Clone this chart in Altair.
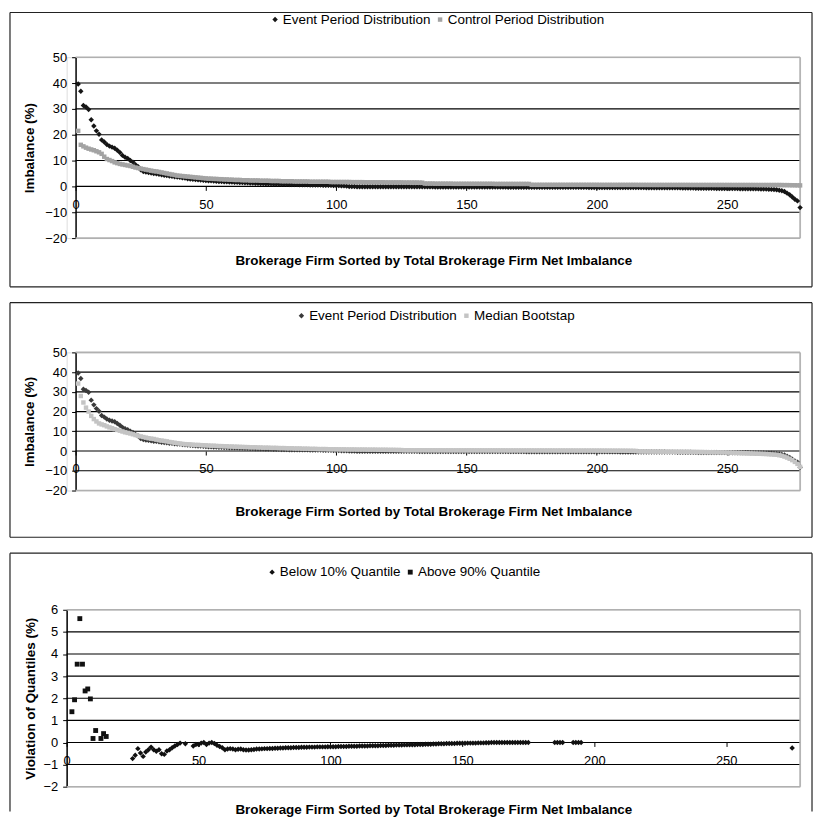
import altair as alt
import pandas as pd

# ---------------- data ----------------
FIRM = list(range(1, 279))

EVENT = [
    39.6, 36.8, 31.3, 30.7, 29.8, 25.8, 23.4, 21.5, 20.2, 18.0,
    17.2, 16.2, 15.6, 15.2, 14.8, 14.0, 13.1, 12.0, 11.3, 10.8,
    10.0, 9.4, 8.4, 7.6, 6.4, 5.8, 5.6, 5.4, 5.2, 5.0,
    4.9, 4.7, 4.5, 4.3, 4.2, 4.0, 3.9, 3.7, 3.6, 3.5,
    3.3, 3.2, 3.0, 2.9, 2.8, 2.7, 2.6, 2.5, 2.4, 2.3,
    2.2, 2.2, 2.1, 2.0, 1.9, 1.9, 1.8, 1.8, 1.7, 1.7,
    1.6, 1.6, 1.5, 1.5, 1.4, 1.4, 1.3, 1.3, 1.2, 1.2,
    1.1, 1.1, 1.0, 1.0, 1.0, 0.9, 0.9, 0.9, 0.8, 0.8,
    0.8, 0.7, 0.7, 0.7, 0.7, 0.6, 0.6, 0.6, 0.6, 0.5,
    0.5, 0.5, 0.5, 0.5, 0.4, 0.4, 0.4, 0.4, 0.3, 0.3,
    0.3, 0.2, 0.2, 0.1, 0.0, -0.05, -0.05, -0.1, -0.1, -0.1,
    -0.1, -0.1, -0.1, -0.12, -0.12, -0.12, -0.13, -0.13, -0.13, -0.14,
    -0.14, -0.14, -0.15, -0.15, -0.15, -0.16, -0.16, -0.16, -0.17, -0.17,
    -0.17, -0.18, -0.18, -0.18, -0.19, -0.19, -0.19, -0.2, -0.2, -0.2,
    -0.2, -0.21, -0.21, -0.21, -0.22, -0.22, -0.22, -0.23, -0.23, -0.23,
    -0.24, -0.24, -0.24, -0.25, -0.25, -0.25, -0.26, -0.26, -0.26, -0.27,
    -0.27, -0.27, -0.28, -0.28, -0.28, -0.29, -0.29, -0.29, -0.3, -0.3,
    -0.3, -0.3, -0.31, -0.31, -0.31, -0.32, -0.32, -0.32, -0.33, -0.33,
    -0.33, -0.34, -0.34, -0.34, -0.35, -0.35, -0.35, -0.36, -0.36, -0.36,
    -0.37, -0.37, -0.37, -0.38, -0.38, -0.38, -0.39, -0.39, -0.39, -0.4,
    -0.4, -0.4, -0.41, -0.41, -0.42, -0.42, -0.43, -0.43, -0.44, -0.44,
    -0.45, -0.45, -0.46, -0.46, -0.47, -0.47, -0.48, -0.48, -0.49, -0.49,
    -0.5, -0.5, -0.51, -0.51, -0.52, -0.52, -0.53, -0.53, -0.54, -0.55,
    -0.56, -0.57, -0.58, -0.6, -0.62, -0.64, -0.66, -0.68, -0.7, -0.72,
    -0.73, -0.74, -0.75, -0.76, -0.77, -0.78, -0.79, -0.8, -0.81, -0.82,
    -0.83, -0.84, -0.85, -0.86, -0.87, -0.88, -0.89, -0.9, -0.91, -0.92,
    -0.94, -0.96, -0.98, -1.0, -1.05, -1.1, -1.15, -1.2, -1.3, -1.45,
    -1.7, -2.0, -2.6, -3.2, -4.1, -5.0, -5.6, -8.2,
]

CONTROL = [
    21.5, 16.1, 15.5, 15.0, 14.6, 14.3, 14.0, 13.6, 13.2, 12.6,
    11.5, 10.6, 10.2, 9.8, 9.3, 9.0, 8.7, 8.5, 8.3, 8.1,
    7.9, 7.6, 7.3, 7.1, 6.9, 6.7, 6.5, 6.3, 6.1, 5.9,
    5.8, 5.6, 5.4, 5.2, 5.0, 4.8, 4.6, 4.4, 4.2, 4.1,
    4.0, 3.9, 3.8, 3.7, 3.6, 3.5, 3.4, 3.3, 3.2, 3.1,
    3.0, 3.0, 2.9, 2.9, 2.8, 2.8, 2.7, 2.7, 2.6, 2.6,
    2.5, 2.5, 2.5, 2.4, 2.4, 2.4, 2.3, 2.3, 2.3, 2.3,
    2.2, 2.2, 2.2, 2.2, 2.1, 2.1, 2.1, 2.1, 2.0, 2.0,
    2.0, 2.0, 2.0, 1.9, 1.9, 1.9, 1.9, 1.9, 1.9, 1.8,
    1.8, 1.8, 1.8, 1.8, 1.8, 1.8, 1.8, 1.7, 1.7, 1.7,
    1.7, 1.7, 1.7, 1.7, 1.7, 1.65, 1.65, 1.65, 1.65, 1.65,
    1.6, 1.6, 1.6, 1.6, 1.6, 1.6, 1.6, 1.6, 1.55, 1.55,
    1.55, 1.55, 1.55, 1.55, 1.55, 1.5, 1.5, 1.5, 1.5, 1.5,
    1.5, 1.45, 1.45, 1.1, 1.1, 1.1, 1.1, 1.05, 1.05, 1.05,
    1.05, 1.05, 1.05, 1.05, 1.0, 1.0, 1.0, 1.0, 1.0, 1.0,
    1.0, 1.0, 1.0, 1.0, 1.0, 1.0, 1.0, 1.0, 1.0, 1.0,
    0.95, 0.95, 0.95, 0.95, 0.95, 0.95, 0.95, 0.95, 0.95, 0.95,
    0.95, 0.95, 0.95, 0.95, 0.6, 0.6, 0.6, 0.6, 0.6, 0.6,
    0.6, 0.6, 0.6, 0.6, 0.6, 0.6, 0.6, 0.6, 0.6, 0.6,
    0.6, 0.6, 0.6, 0.6, 0.6, 0.6, 0.6, 0.6, 0.6, 0.6,
    0.58, 0.58, 0.58, 0.58, 0.58, 0.58, 0.58, 0.58, 0.58, 0.58,
    0.58, 0.58, 0.58, 0.58, 0.58, 0.57, 0.57, 0.57, 0.57, 0.57,
    0.56, 0.56, 0.56, 0.56, 0.56, 0.56, 0.56, 0.56, 0.56, 0.56,
    0.56, 0.56, 0.56, 0.56, 0.56, 0.55, 0.55, 0.55, 0.55, 0.55,
    0.55, 0.55, 0.55, 0.55, 0.55, 0.55, 0.55, 0.55, 0.55, 0.55,
    0.54, 0.54, 0.54, 0.54, 0.54, 0.54, 0.54, 0.54, 0.54, 0.54,
    0.53, 0.53, 0.53, 0.53, 0.53, 0.53, 0.53, 0.53, 0.53, 0.53,
    0.52, 0.5, 0.5, 0.48, 0.46, 0.44, 0.42, 0.4,
]

BOOTSTRAP = [
    34.2, 27.9, 24.6, 22.0, 20.0, 17.8, 16.2, 15.0, 14.0, 13.5,
    13.1, 12.5, 12.0, 11.6, 11.1, 10.7, 10.3, 9.9, 9.5, 9.2,
    8.9, 8.5, 8.1, 7.7, 7.4, 7.1, 6.8, 6.5, 6.3, 6.1,
    5.8, 5.5, 5.3, 5.1, 4.9, 4.6, 4.4, 4.2, 4.0, 3.8,
    3.6, 3.5, 3.4, 3.3, 3.2, 3.1, 3.1, 3.0, 2.9, 2.9,
    2.8, 2.7, 2.7, 2.6, 2.5, 2.5, 2.4, 2.4, 2.3, 2.3,
    2.2, 2.2, 2.1, 2.1, 2.0, 2.0, 1.9, 1.9, 1.9, 1.8,
    1.8, 1.7, 1.7, 1.7, 1.6, 1.6, 1.6, 1.5, 1.5, 1.5,
    1.4, 1.4, 1.4, 1.3, 1.3, 1.3, 1.2, 1.2, 1.2, 1.1,
    1.1, 1.1, 1.0, 1.0, 1.0, 1.0, 0.9, 0.9, 0.9, 0.9,
    0.85, 0.85, 0.85, 0.8, 0.8, 0.8, 0.8, 0.75, 0.75, 0.75,
    0.75, 0.7, 0.7, 0.7, 0.7, 0.65, 0.65, 0.65, 0.65, 0.6,
    0.6, 0.6, 0.55, 0.55, 0.5, 0.4, 0.4, 0.4, 0.4, 0.4,
    0.4, 0.4, 0.4, 0.4, 0.4, 0.38, 0.38, 0.38, 0.38, 0.38,
    0.37, 0.37, 0.37, 0.36, 0.36, 0.36, 0.36, 0.35, 0.35, 0.35,
    0.35, 0.35, 0.34, 0.34, 0.34, 0.34, 0.33, 0.33, 0.33, 0.33,
    0.33, 0.32, 0.32, 0.32, 0.32, 0.31, 0.31, 0.31, 0.31, 0.3,
    0.3, 0.3, 0.3, 0.3, 0.3, 0.29, 0.29, 0.29, 0.29, 0.28,
    0.28, 0.28, 0.28, 0.27, 0.27, 0.27, 0.27, 0.26, 0.26, 0.26,
    0.26, 0.25, 0.25, 0.25, 0.25, 0.24, 0.24, 0.24, 0.23, 0.23,
    0.23, 0.22, 0.22, 0.21, 0.21, 0.2, 0.2, 0.19, 0.18, 0.17,
    0.16, 0.15, 0.13, 0.1, 0.05, -0.2, -0.22, -0.24, -0.26, -0.28,
    -0.3, -0.31, -0.32, -0.33, -0.34, -0.35, -0.36, -0.37, -0.38, -0.39,
    -0.4, -0.41, -0.42, -0.43, -0.44, -0.45, -0.46, -0.48, -0.5, -0.52,
    -0.54, -0.56, -0.58, -0.6, -0.62, -0.64, -0.66, -0.68, -0.72, -0.76,
    -0.8, -0.85, -0.9, -0.95, -1.0, -1.05, -1.1, -1.15, -1.2, -1.25,
    -1.3, -1.35, -1.4, -1.45, -1.5, -1.6, -1.7, -1.8, -1.9, -2.1,
    -2.4, -2.8, -3.3, -3.9, -4.6, -5.5, -6.5, -8.0,
]

ABOVE_X = [2, 3, 4, 5, 6, 7, 8, 9, 10, 11, 13, 14, 15]
ABOVE_Y = [1.39, 1.93, 3.54, 5.6, 3.54, 2.33, 2.42, 1.97, 0.18, 0.54, 0.18, 0.40, 0.27]

BELOW_X = (list(range(25, 44)) + [45] + list(range(48, 176))
           + [185, 186, 187, 188, 192, 193, 194, 195, 275])
BELOW_Y = [
    -0.73, -0.58, -0.28, -0.48, -0.63, -0.43, -0.33, -0.21, -0.33, -0.40,
    -0.33, -0.51, -0.54, -0.39, -0.33, -0.24, -0.16, -0.09, -0.03,
    -0.06,
    -0.16, -0.09, -0.09, -0.03, 0.0, -0.09, -0.03, 0.0, -0.05, -0.13, -0.18, -0.24, -0.33,
    -0.30, -0.28, -0.30, -0.33, -0.31, -0.30, -0.33, -0.34, -0.34, -0.33,
    -0.32, -0.30, -0.30, -0.29, -0.28, -0.28, -0.27, -0.27, -0.26, -0.26,
    -0.25, -0.25, -0.24, -0.24, -0.24, -0.23, -0.23, -0.23, -0.22, -0.22,
    -0.22, -0.21, -0.21, -0.21, -0.20, -0.20, -0.20, -0.20, -0.19, -0.19,
    -0.19, -0.19, -0.18, -0.18, -0.18, -0.18, -0.17, -0.17, -0.17, -0.17,
    -0.16, -0.16, -0.16, -0.16, -0.15, -0.15, -0.15, -0.15, -0.14, -0.14,
    -0.14, -0.13, -0.13, -0.13, -0.12, -0.12, -0.12, -0.11, -0.11, -0.10,
    -0.10, -0.10, -0.09, -0.09, -0.09, -0.08, -0.08, -0.08, -0.07, -0.07,
    -0.06, -0.06, -0.06, -0.05, -0.05, -0.05, -0.05, -0.04, -0.04, -0.04,
    -0.04, -0.03, -0.03, -0.03, -0.03, -0.02, -0.02, -0.02, -0.01, -0.01,
    0.0, 0.0, 0.0, 0.0, 0.0, 0.0, 0.0, 0.0, 0.0, 0.0, 0.0, 0.0, 0.0, 0.0, 0.0,
    0.0, 0.0, 0.0, 0.0, 0.0, 0.0, 0.0, 0.0,
    -0.25,
]

X_TICKS = [0, 50, 100, 150, 200, 250]
Y_TICKS_IMB = [-20, -10, 0, 10, 20, 30, 40, 50]
Y_TICKS_VIO = [-2, -1, 0, 1, 2, 3, 4, 5, 6]
X_TITLE = "Brokerage Firm Sorted by Total Brokerage Firm Net Imbalance"

assert len(EVENT) == 278 and len(CONTROL) == 278 and len(BOOTSTRAP) == 278
assert len(BELOW_X) == len(BELOW_Y)

# ---------------- styling ----------------
FONT = "Liberation Sans, Arial, sans-serif"
W = 738
XMAX = 278
SHIFT = 9 * XMAX / 729.0  # y axis sits 9px right of the plot edge in panels 1-2


def two_series(names, a, b, xa, xb):
    return pd.DataFrame({
        "firm": list(xa) + list(xb),
        "value": list(a) + list(b),
        "series": [names[0]] * len(a) + [names[1]] * len(b),
    })


def frame_rules(left, right, top, bottom, with_bottom=True, color="#222"):
    parts = []
    d = pd.DataFrame({"a": [0]})
    parts.append(alt.Chart(d).mark_rule(color=color, strokeWidth=1.2).encode(
        x=alt.value(left), x2=alt.value(right), y=alt.value(top)))
    parts.append(alt.Chart(d).mark_rule(color=color, strokeWidth=1.2).encode(
        x=alt.value(left), y=alt.value(top), y2=alt.value(bottom)))
    parts.append(alt.Chart(d).mark_rule(color=color, strokeWidth=1.2).encode(
        x=alt.value(right), y=alt.value(top), y2=alt.value(bottom)))
    if with_bottom:
        parts.append(alt.Chart(d).mark_rule(color=color, strokeWidth=1.2).encode(
            x=alt.value(left), x2=alt.value(right), y=alt.value(bottom)))
    return parts


def make_panel(df, names, colors, shapes, sizes, xdom, yticks, height, y_title,
               y_offset, x_offset, x_title_pad, y_title_pad, leg_x, leg_y,
               box_top, box_bottom, with_bottom=True):
    ydom = [yticks[0], yticks[-1]]
    xs = alt.Scale(domain=xdom, nice=False, zero=False)
    ys = alt.Scale(domain=ydom, nice=False, zero=False)

    legend = alt.Legend(title=None, orient="none", legendX=leg_x, legendY=leg_y,
                        direction="horizontal", labelFont=FONT, labelFontSize=13.5,
                        labelColor="black", symbolSize=26, symbolStrokeWidth=0,
                        columnPadding=2, labelOffset=1, padding=0)

    x_axis = alt.Axis(values=X_TICKS, title=X_TITLE, titleFont=FONT, titleFontSize=13.5,
                      titleFontWeight="bold", titleColor="black", titlePadding=x_title_pad,
                      labelFont=FONT, labelFontSize=13, labelColor="black", labelPadding=8,
                      labelFlush=False, labelOverlap=False, domain=False, ticks=True,
                      tickSize=4, tickColor="black", tickWidth=1, grid=False, offset=x_offset)
    y_axis = alt.Axis(values=yticks, title=y_title, titleFont=FONT, titleFontSize=13.5,
                      titleFontWeight="bold", titleColor="black", titlePadding=y_title_pad,
                      labelFont=FONT, labelFontSize=13, labelColor="black", labelPadding=5,
                      domain=True, domainColor="black", domainWidth=1.5, ticks=True,
                      tickSize=4, tickColor="black", tickWidth=1, grid=False, offset=y_offset)

    inner = yticks[1:-1]
    grid_df = pd.DataFrame({"firm": [0] * len(inner), "x1": [XMAX] * len(inner),
                            "value": inner})
    grid = alt.Chart(grid_df).mark_rule(color="black", strokeWidth=1.1).encode(
        x=alt.X("firm:Q", scale=xs, axis=x_axis), x2="x1:Q",
        y=alt.Y("value:Q", scale=ys, axis=y_axis))

    lo, hi = ydom
    border_df = pd.DataFrame({"firm": [0, 0, XMAX], "x1": [XMAX, XMAX, XMAX],
                              "value": [hi, lo, lo], "y1": [hi, lo, hi]})
    border = alt.Chart(border_df).mark_rule(color="#b0b0b0", strokeWidth=1.6).encode(
        x=alt.X("firm:Q", scale=xs, axis=x_axis), x2="x1:Q",
        y=alt.Y("value:Q", scale=ys, axis=y_axis), y2="y1:Q")

    pts = alt.Chart(df).mark_point(filled=True, opacity=1).encode(
        x=alt.X("firm:Q", scale=xs, axis=x_axis),
        y=alt.Y("value:Q", scale=ys, axis=y_axis),
        color=alt.Color("series:N", scale=alt.Scale(domain=names, range=colors), legend=legend),
        shape=alt.Shape("series:N", scale=alt.Scale(domain=names, range=shapes), legend=legend),
        size=alt.Size("series:N", scale=alt.Scale(domain=names, range=sizes), legend=None),
    )

    layers = [grid, border, pts] + frame_rules(-57, 750, box_top, box_bottom, with_bottom)
    return alt.layer(*layers).properties(width=W, height=height)


names1 = ["Event Period Distribution", "Control Period Distribution"]
df1 = two_series(names1, EVENT, CONTROL, FIRM, FIRM)
p1 = make_panel(df1, names1, ["#151515", "#a3a3a3"], ["diamond", "square"], [30, 20],
                [-SHIFT, XMAX], Y_TICKS_IMB, 182, "Imbalance (%)",
                -9, -52, 43, 8, 203, -45, -45, 231)

names2 = ["Event Period Distribution", "Median Bootstap"]
df2 = two_series(names2, EVENT, BOOTSTRAP, FIRM, FIRM)
p2 = make_panel(df2, names2, ["#3a3a3a", "#c4c4c4"], ["diamond", "square"], [30, 20],
                [-SHIFT, XMAX], Y_TICKS_IMB, 139, "Imbalance (%)",
                -9, -39.7, 29, 8, 229.5, -44, -50, 186)

names3 = ["Below 10% Quantile", "Above 90% Quantile"]
df3 = two_series(names3, BELOW_Y, ABOVE_Y, BELOW_X, ABOVE_X)
p3 = make_panel(df3, names3, ["#111111", "#111111"], ["diamond", "square"], [30, 24],
                [0, XMAX], Y_TICKS_VIO, 178, "Violation of Quantiles (%)",
                0, -44.5, 35, 6, 200, -45, -57, 203, with_bottom=False)

chart = (alt.vconcat(p1, p2, p3, spacing=12)
         .resolve_scale(x="independent", y="independent", color="independent",
                        shape="independent", size="independent")
         .resolve_legend(color="independent", shape="independent", size="independent")
         .properties(padding=0)
         .configure_view(stroke=None)
         .configure(background="white"))

chart.save("out.html", embed_options={"renderer": "svg", "actions": False})
